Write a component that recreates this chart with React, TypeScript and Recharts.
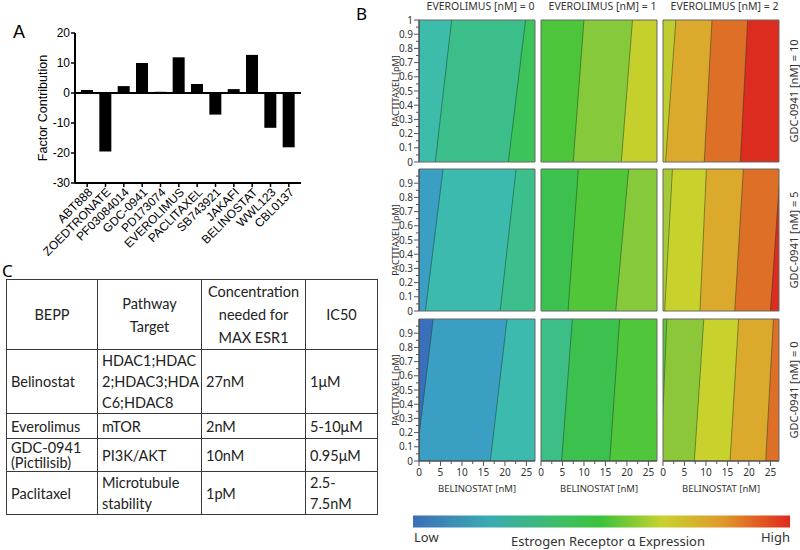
import React from 'react'
import {
  BarChart,
  Bar,
  XAxis,
  YAxis,
  ReferenceLine,
  ComposedChart,
  Area,
  ReferenceArea,
} from 'recharts'

// ---- panel A ----
const factorNames = [
  'ABT888', 'ZOEDTRONATE', 'PF03084014', 'GDC-0941', 'PD173074', 'EVEROLIMUS',
  'PACLITAXEL', 'SB743921', 'JAKAFI', 'BELINOSTAT', 'WWL123', 'CBL0137',
]
const factorValues = [1, -19.5, 2.3, 10, 0.4, 11.9, 3, -7.2, 1.3, 12.7, -11.6, -18.1]
const factorTicks = [-30, -20, -10, 0, 10, 20]

// ---- panel B ----
const everolimusLevels = [0, 1, 2]
const gdcLevels = [10, 5, 0]
const belinostatMax = 27
const belinostatTicks = [0, 2.5, 5, 7.5, 10, 12.5, 15, 17.5, 20, 22.5, 25]
const belinostatLabels = [0, 5, 10, 15, 20, 25]
const paclitaxelTicks = [
  0, 0.05, 0.1, 0.15, 0.2, 0.25, 0.3, 0.35, 0.4, 0.45, 0.5,
  0.55, 0.6, 0.65, 0.7, 0.75, 0.8, 0.85, 0.9, 0.95, 1,
]
const paclitaxelLabels = [0, 0.1, 0.2, 0.3, 0.4, 0.5, 0.6, 0.7, 0.8, 0.9, 1]

// contour lines: belinostat value where each line meets paclitaxel = 0 and = 1
const gdc10Edges = [
  [[3.8, 7.6], [20.8, 24.8]],
  [[7.5, 10.0], [18.7, 21.3]],
  [[0.6, 3.0], [9.6, 11.4], [18.0, 19.7]],
]
const gdc5Edges = [
  [[1.5, 5.6], [18.9, 22.6]],
  [[6.3, 8.7], [17.4, 20.4]],
  [[0.4, 2.2], [8.6, 10.1], [16.7, 18.7], [25.0, 27.3]],
]
const gdc0Edges = [
  [[-0.7, 3.3], [16.6, 20.5]],
  [[4.8, 7.3], [16.0, 18.3]],
  [[-0.5, 0.9], [7.3, 9.5], [15.6, 17.6], [23.9, 25.7]],
]

// band colours, left to right
const gdc10Colors = [
  ['#3dbcab', '#3cbe8b', '#3cc45a'],
  ['#4cc53a', '#86c93a', '#c6d02d'],
  ['#bfcd2f', '#dba92b', '#de6f26', '#dc2b1f'],
]
const gdc5Colors = [
  ['#3a9fc3', '#3bbaad', '#3cbf8c'],
  ['#3cc04e', '#52c639', '#86c93a'],
  ['#a6c937', '#c9d22d', '#dba92b', '#de6f26', '#dc2b1f'],
]
const gdc0Colors = [
  ['#3a70bb', '#3a9fc3', '#3bbaad'],
  ['#3cbe86', '#3cc04e', '#50c73a'],
  ['#5cc43a', '#8cc73a', '#c9d22d', '#dba92b', '#de6f26'],
]
const rowEdges = [gdc10Edges, gdc5Edges, gdc0Edges]
const rowColors = [gdc10Colors, gdc5Colors, gdc0Colors]

const colorbarStops = [
  [0, '#3c6fb8'],
  [0.2, '#3aaab2'],
  [0.4, '#3cbf62'],
  [0.5, '#3cc23a'],
  [0.66, '#c8d22e'],
  [0.82, '#e09a2a'],
  [1, '#e0281e'],
] as const

// ---- panel C ----
const tableHeader = ['BEPP', 'Pathway\nTarget', 'Concentration\nneeded for\nMAX ESR1', 'IC50']
const tableRows = [
  ['Belinostat', 'HDAC1;HDAC\n2;HDAC3;HDA\nC6;HDAC8', '27nM', '1\u03bcM'],
  ['Everolimus', 'mTOR', '2nM', '5-10\u03bcM'],
  ['GDC-0941\n(Pictilisib)', 'PI3K/AKT', '10nM', '0.95\u03bcM'],
  ['Paclitaxel', 'Microtubule\nstability', '1pM', '2.5-\n7.5nM'],
]

const sansB = "'Noto Sans', 'Open Sans', sans-serif"
const arial = "'Liberation Sans', Arial, sans-serif"

const cellLeft = [418.5, 540.5, 662.5]
const cellTop = [20, 169, 319]
const cellW = 116
const cellH = 142
const pad = 6

function FactorTick(props: any) {
  const { x, y, payload } = props
  const ax = x + 3
  const ay = y + 1
  return (
    <text
      x={ax}
      y={ay}
      dy="0.35em"
      textAnchor="end"
      transform={`rotate(-45 ${ax} ${ay})`}
      fontSize={12}
      fontFamily={arial}
      fill="#000"
    >
      {payload.value}
    </text>
  )
}

function PacTick(props: any) {
  const { x, y, payload } = props
  const major = paclitaxelLabels.includes(payload.value)
  return (
    <g>
      <line x1={x - (major ? 5 : 3)} x2={x} y1={y} y2={y} stroke="#555" />
      {major && (
        <text x={x - 6} y={y + 3.5} textAnchor="end" fontSize={10} fontFamily={sansB} fill="#333">
          {payload.value}
        </text>
      )}
    </g>
  )
}

function BelTick(props: any) {
  const { x, y, payload } = props
  const major = belinostatLabels.includes(payload.value)
  return (
    <g>
      <line x1={x} x2={x} y1={y} y2={y + (major ? 5 : 3)} stroke="#555" />
      {major && (
        <text x={x} y={y + 15} textAnchor="middle" fontSize={10} fontFamily={sansB} fill="#333">
          {payload.value}
        </text>
      )}
    </g>
  )
}

function ContourCell({ row, col }: { row: number; col: number }) {
  const edges = rowEdges[row][col]
  const colors = rowColors[row][col]
  const data = [0, 1].map((p, k) => {
    const entry: Record<string, number> = { p, end: belinostatMax }
    edges.forEach((e, i) => {
      entry['e' + i] = e[k]
    })
    return entry
  })
  const showY = col === 0
  const showX = row === 2
  const leftW = showY ? 34 : 0
  const marginLeft = showY ? 0 : pad
  const bottomH = showX ? 32 : 0
  const order = edges.map((_, i) => edges.length - 1 - i)

  return (
    <div
      style={{
        position: 'absolute',
        left: cellLeft[col] - leftW - marginLeft,
        top: cellTop[row] - pad,
      }}
    >
      <ComposedChart
        layout="vertical"
        width={marginLeft + leftW + cellW + pad}
        height={pad + cellH + bottomH + pad}
        data={data}
        margin={{ top: pad, right: pad, bottom: pad, left: marginLeft }}
      >
        <XAxis
          type="number"
          domain={[0, belinostatMax]}
          allowDataOverflow
          hide={!showX}
          height={bottomH}
          ticks={belinostatTicks}
          interval={0}
          tick={<BelTick />}
          tickLine={false}
          tickSize={0}
          tickMargin={0}
          axisLine={{ stroke: '#444' }}
          label={{
            value: 'BELINOSTAT [nM]',
            position: 'insideBottom',
            offset: 1,
            style: { fontSize: 9.5, fontFamily: sansB, fill: '#333' },
          }}
        />
        <YAxis
          type="number"
          dataKey="p"
          domain={[0, 1]}
          reversed
          allowDataOverflow
          hide={!showY}
          width={leftW}
          ticks={row === 0 ? paclitaxelTicks : paclitaxelTicks.slice(0, -1)}
          interval={0}
          tick={<PacTick />}
          tickLine={false}
          tickSize={0}
          tickMargin={0}
          axisLine={{ stroke: '#444' }}
          label={{
            value: 'PACTITAXEL [pM]',
            angle: -90,
            position: 'insideLeft',
            offset: 11,
            style: { fontSize: 9, fontFamily: sansB, fill: '#333', textAnchor: 'middle' },
          }}
        />
        <Area
          dataKey="end"
          type="linear"
          fill={colors[colors.length - 1]}
          fillOpacity={1}
          stroke="none"
          isAnimationActive={false}
          dot={false}
          activeDot={false}
        />
        {order.map((i) => (
          <Area
            key={i}
            dataKey={'e' + i}
            type="linear"
            fill={colors[i]}
            fillOpacity={1}
            stroke="rgba(30,60,40,0.55)"
            strokeWidth={0.9}
            isAnimationActive={false}
            dot={false}
            activeDot={false}
          />
        ))}
        <ReferenceArea
          x1={0}
          x2={belinostatMax}
          y1={0}
          y2={1}
          fill="none"
          stroke="#666"
          strokeWidth={1}
        />
      </ComposedChart>
    </div>
  )
}

const tdBase: React.CSSProperties = {
  border: '1.5px solid #3a3a3a',
  padding: '0 4px',
  fontSize: 14.5,
  lineHeight: '22px',
  verticalAlign: 'middle',
  whiteSpace: 'pre',
  color: '#222',
  overflow: 'visible',
}
const rowHeights = [68, 62, 25, 33, 42]

export default function App() {
  const factorData = factorNames.map((name, i) => ({ name, value: factorValues[i] }))

  return (
    <div
      style={{
        position: 'absolute',
        left: 0,
        top: 0,
        width: 800,
        height: 550,
        background: '#fff',
        overflow: 'hidden',
      }}
    >
      {/* panel A */}
      <div style={{ position: 'absolute', left: 0, top: 0 }}>
        <BarChart
          width={310}
          height={260}
          data={factorData}
          margin={{ top: 33, right: 9, bottom: 0, left: 0 }}
        >
          <XAxis
            dataKey="name"
            height={77}
            interval={0}
            padding={{ left: 3, right: 3 }}
            tick={<FactorTick />}
            tickSize={4}
            tickMargin={2}
            tickLine={{ stroke: '#000', strokeWidth: 1.5 }}
            axisLine={{ stroke: '#000', strokeWidth: 2 }}
          />
          <YAxis
            domain={[-30, 20]}
            ticks={factorTicks}
            width={75}
            tickSize={4}
            tickMargin={1}
            tick={{ fontSize: 12, fill: '#000', fontFamily: arial }}
            tickLine={{ stroke: '#000', strokeWidth: 1.5 }}
            axisLine={{ stroke: '#000', strokeWidth: 2 }}
            label={{
              value: 'Factor Contribution',
              angle: -90,
              position: 'insideLeft',
              offset: 43,
              style: { fontSize: 12.5, fontFamily: arial, fill: '#000', textAnchor: 'middle' },
            }}
          />
          <Bar dataKey="value" fill="#000" barSize={12} isAnimationActive={false} />
          <ReferenceLine y={0} stroke="#000" strokeWidth={2} />
        </BarChart>
      </div>

      {/* panel B */}
      {[0, 1, 2].map((r) =>
        [0, 1, 2].map((c) => <ContourCell key={`${r}-${c}`} row={r} col={c} />),
      )}

      <svg
        width={800}
        height={550}
        style={{ position: 'absolute', left: 0, top: 0, pointerEvents: 'none' }}
      >
        <defs>
          <linearGradient id="esrBar" x1="0" x2="1" y1="0" y2="0">
            {colorbarStops.map(([o, c]) => (
              <stop key={o} offset={o} stopColor={c} />
            ))}
          </linearGradient>
        </defs>
        <text x={13} y={38} fontSize={18} fontFamily={arial}>
          A
        </text>
        <text x={356} y={20} fontSize={17} fontFamily={sansB}>
          B
        </text>
        <text x={2} y={277} fontSize={17} fontFamily={sansB}>
          C
        </text>
        {everolimusLevels.map((lvl, c) => (
          <text
            key={lvl}
            x={cellLeft[c] + cellW / 2 + 4}
            y={10}
            textAnchor="middle"
            fontSize={10.5}
            fontFamily={sansB}
            fill="#333"
          >
            {`EVEROLIMUS [nM] = ${lvl}`}
          </text>
        ))}
        {gdcLevels.map((lvl, r) => {
          const cx = 794
          const cy = cellTop[r] + cellH / 2
          return (
            <text
              key={lvl}
              x={cx}
              y={cy}
              dy="0.35em"
              textAnchor="middle"
              transform={`rotate(-90 ${cx} ${cy})`}
              fontSize={11}
              fontFamily={sansB}
              fill="#333"
            >
              {`GDC-0941 [nM] = ${lvl}`}
            </text>
          )
        })}
        <rect x={413} y={515.5} width={377} height={12} fill="url(#esrBar)" />
        <text x={414} y={542} fontSize={13} fontFamily={sansB} fill="#333">
          Low
        </text>
        <text x={790} y={542} fontSize={13} fontFamily={sansB} fill="#333" textAnchor="end">
          High
        </text>
        <text x={608} y={546} fontSize={13} fontFamily={sansB} fill="#333" textAnchor="middle">
          Estrogen Receptor {'\u03b1'} Expression
        </text>
      </svg>

      {/* panel C */}
      <table
        style={{
          position: 'absolute',
          left: 6,
          top: 279,
          width: 371,
          borderCollapse: 'collapse',
          tableLayout: 'fixed',
          fontFamily: "Lato, 'Open Sans', sans-serif",
        }}
      >
        <colgroup>
          <col style={{ width: 91 }} />
          <col style={{ width: 104 }} />
          <col style={{ width: 104 }} />
          <col style={{ width: 72 }} />
        </colgroup>
        <tbody>
          <tr style={{ height: rowHeights[0] }}>
            {tableHeader.map((h) => (
              <td key={h} style={{ ...tdBase, textAlign: 'center', lineHeight: '23px' }}>
                {h}
              </td>
            ))}
          </tr>
          {tableRows.map((row, i) => (
            <tr key={row[0]} style={{ height: rowHeights[i + 1] }}>
              {row.map((v, j) => (
                <td
                  key={j}
                  style={{
                    ...tdBase,
                    lineHeight: i === 2 && j === 0 ? '15px' : '21px',
                  }}
                >
                  {v}
                </td>
              ))}
            </tr>
          ))}
        </tbody>
      </table>
    </div>
  )
}
